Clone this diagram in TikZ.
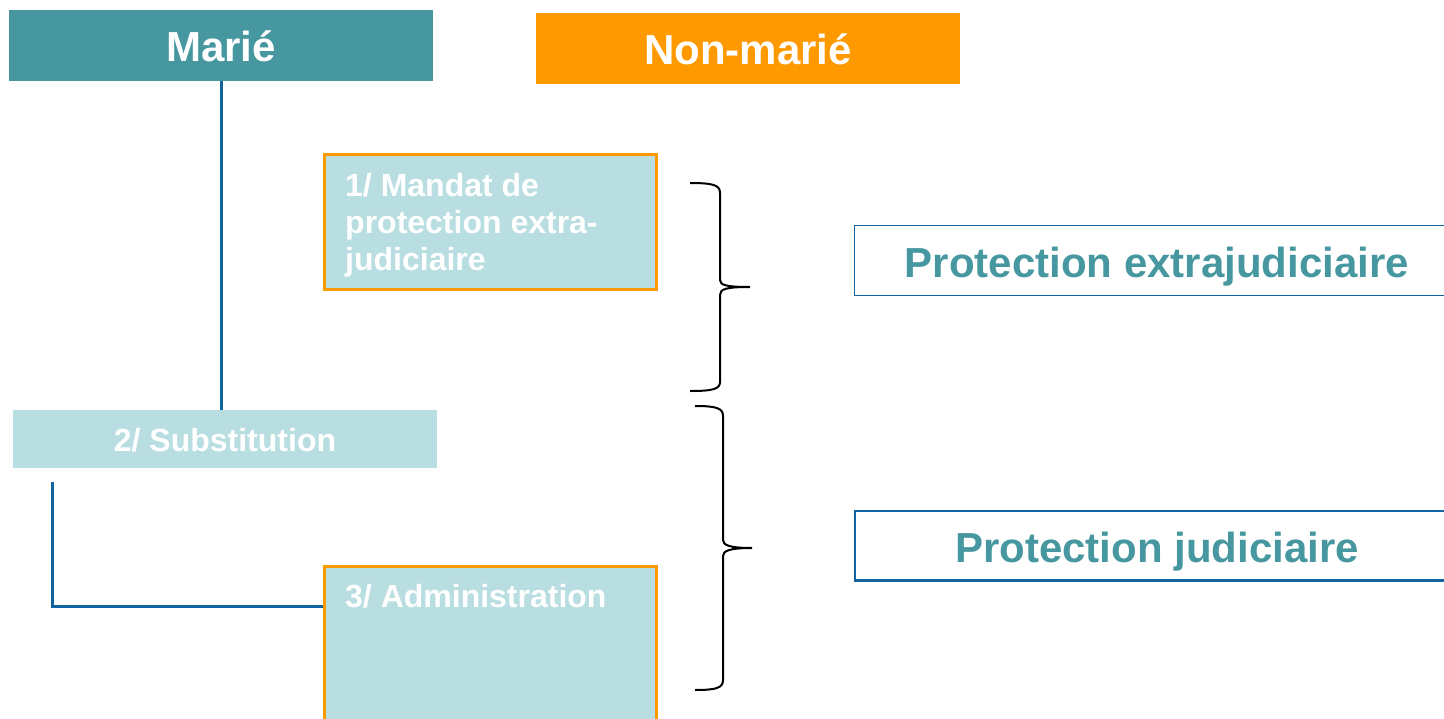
\documentclass[tikz,border=0pt]{standalone}
\usepackage{fontspec}
\setmainfont{Liberation Sans}
\definecolor{teal1}{RGB}{70,151,160}
\definecolor{orange1}{RGB}{255,153,0}
\definecolor{light1}{RGB}{185,222,225}
\definecolor{blue1}{RGB}{18,100,160}
\tikzset{
  headbox/.style={fill=#1, draw=none, inner sep=0pt, text=white, font=\fontsize{42}{48}\selectfont\bfseries},
  itembox/.style={fill=light1, draw=orange1, line width=3pt, inner sep=0pt},
  itemtext/.style={text=white, font=\fontsize{32}{37.5}\selectfont\bfseries, inner sep=0pt, align=left},
  resbox/.style={draw=blue1, fill=white, inner sep=0pt, text=teal1, font=\fontsize{42}{48}\selectfont\bfseries},
  link/.style={draw=blue1, line width=3pt},
  brace/.style={draw=black, line width=2pt}
}
\begin{document}
\begin{tikzpicture}[x=1pt,y=-1pt]
\useasboundingbox (0,0) rectangle (1444,718);
\begin{scope}
\clip (0,0) rectangle (1444,718);
% header boxes
\path[fill=teal1] (9,10) rectangle (433,81);
\node[text=white, font=\fontsize{42}{48}\selectfont\bfseries, inner sep=0pt, anchor=base] (marie) at (221,61) {Marié};
\coordinate (marieS) at (221,81);
\path[fill=orange1] (536,13) rectangle (960,84);
\node[text=white, font=\fontsize{42}{48}\selectfont\bfseries, inner sep=0pt, anchor=base] (nonmarie) at (748,64) {Non-marié};
% box 1
\draw[itembox] (324.5,154.5) rectangle (656.5,289.5);
\node[itemtext, anchor=base west] (m1) at (345,196) {1/ Mandat de};
\node[itemtext, anchor=base west] (m2) at (345,233) {protection extra-};
\node[itemtext, anchor=base west] (m3) at (345,270) {judiciaire};
% substitution
\path[fill=light1] (13,410) rectangle (437,468);
\node[itemtext, anchor=base] (subst) at (225,451) {2/ Substitution};
\coordinate (substN) at (221,410);
% box 3
\draw[itembox] (324.5,566.5) rectangle (656.5,740);
\node[itemtext, anchor=base west] (admin) at (345,607) {3/ Administration};
\coordinate (adminW) at (323,606);
% connectors
\draw[link] (marieS) -- (substN);
\coordinate (c1) at (52,482);
\draw[link, line join=miter] (c1) |- (adminW);
% braces
\draw[brace] (690,183) .. controls (713,183) and (720,185) .. (720,193) -- (720,280)
  .. controls (720,285) and (726,287) .. (750,287)
  .. controls (726,287) and (720,289) .. (720,295) -- (720,382)
  .. controls (720,389) and (713,391) .. (690,391);
\draw[brace] (695,406) .. controls (716,406) and (723,408) .. (723,416) -- (723,540)
  .. controls (723,545) and (729,548) .. (752,548)
  .. controls (729,548) and (723,551) .. (723,556) -- (723,680)
  .. controls (723,688) and (716,690) .. (695,690);
% result boxes
\draw[draw=blue1, line width=1.2pt] (854.5,225.5) rectangle (1460,295.5);
\node[text=teal1, font=\fontsize{42}{48}\selectfont\bfseries, inner sep=0pt, anchor=base] (pext) at (1157,277) {Protection extrajudiciaire};
\draw[draw=blue1, line width=2.2pt] (855,511) rectangle (1460,580.5);
\node[text=teal1, font=\fontsize{42}{48}\selectfont\bfseries, inner sep=0pt, anchor=base] (pjud) at (1157,562) {Protection judiciaire};
\end{scope}
\end{tikzpicture}
\end{document}
